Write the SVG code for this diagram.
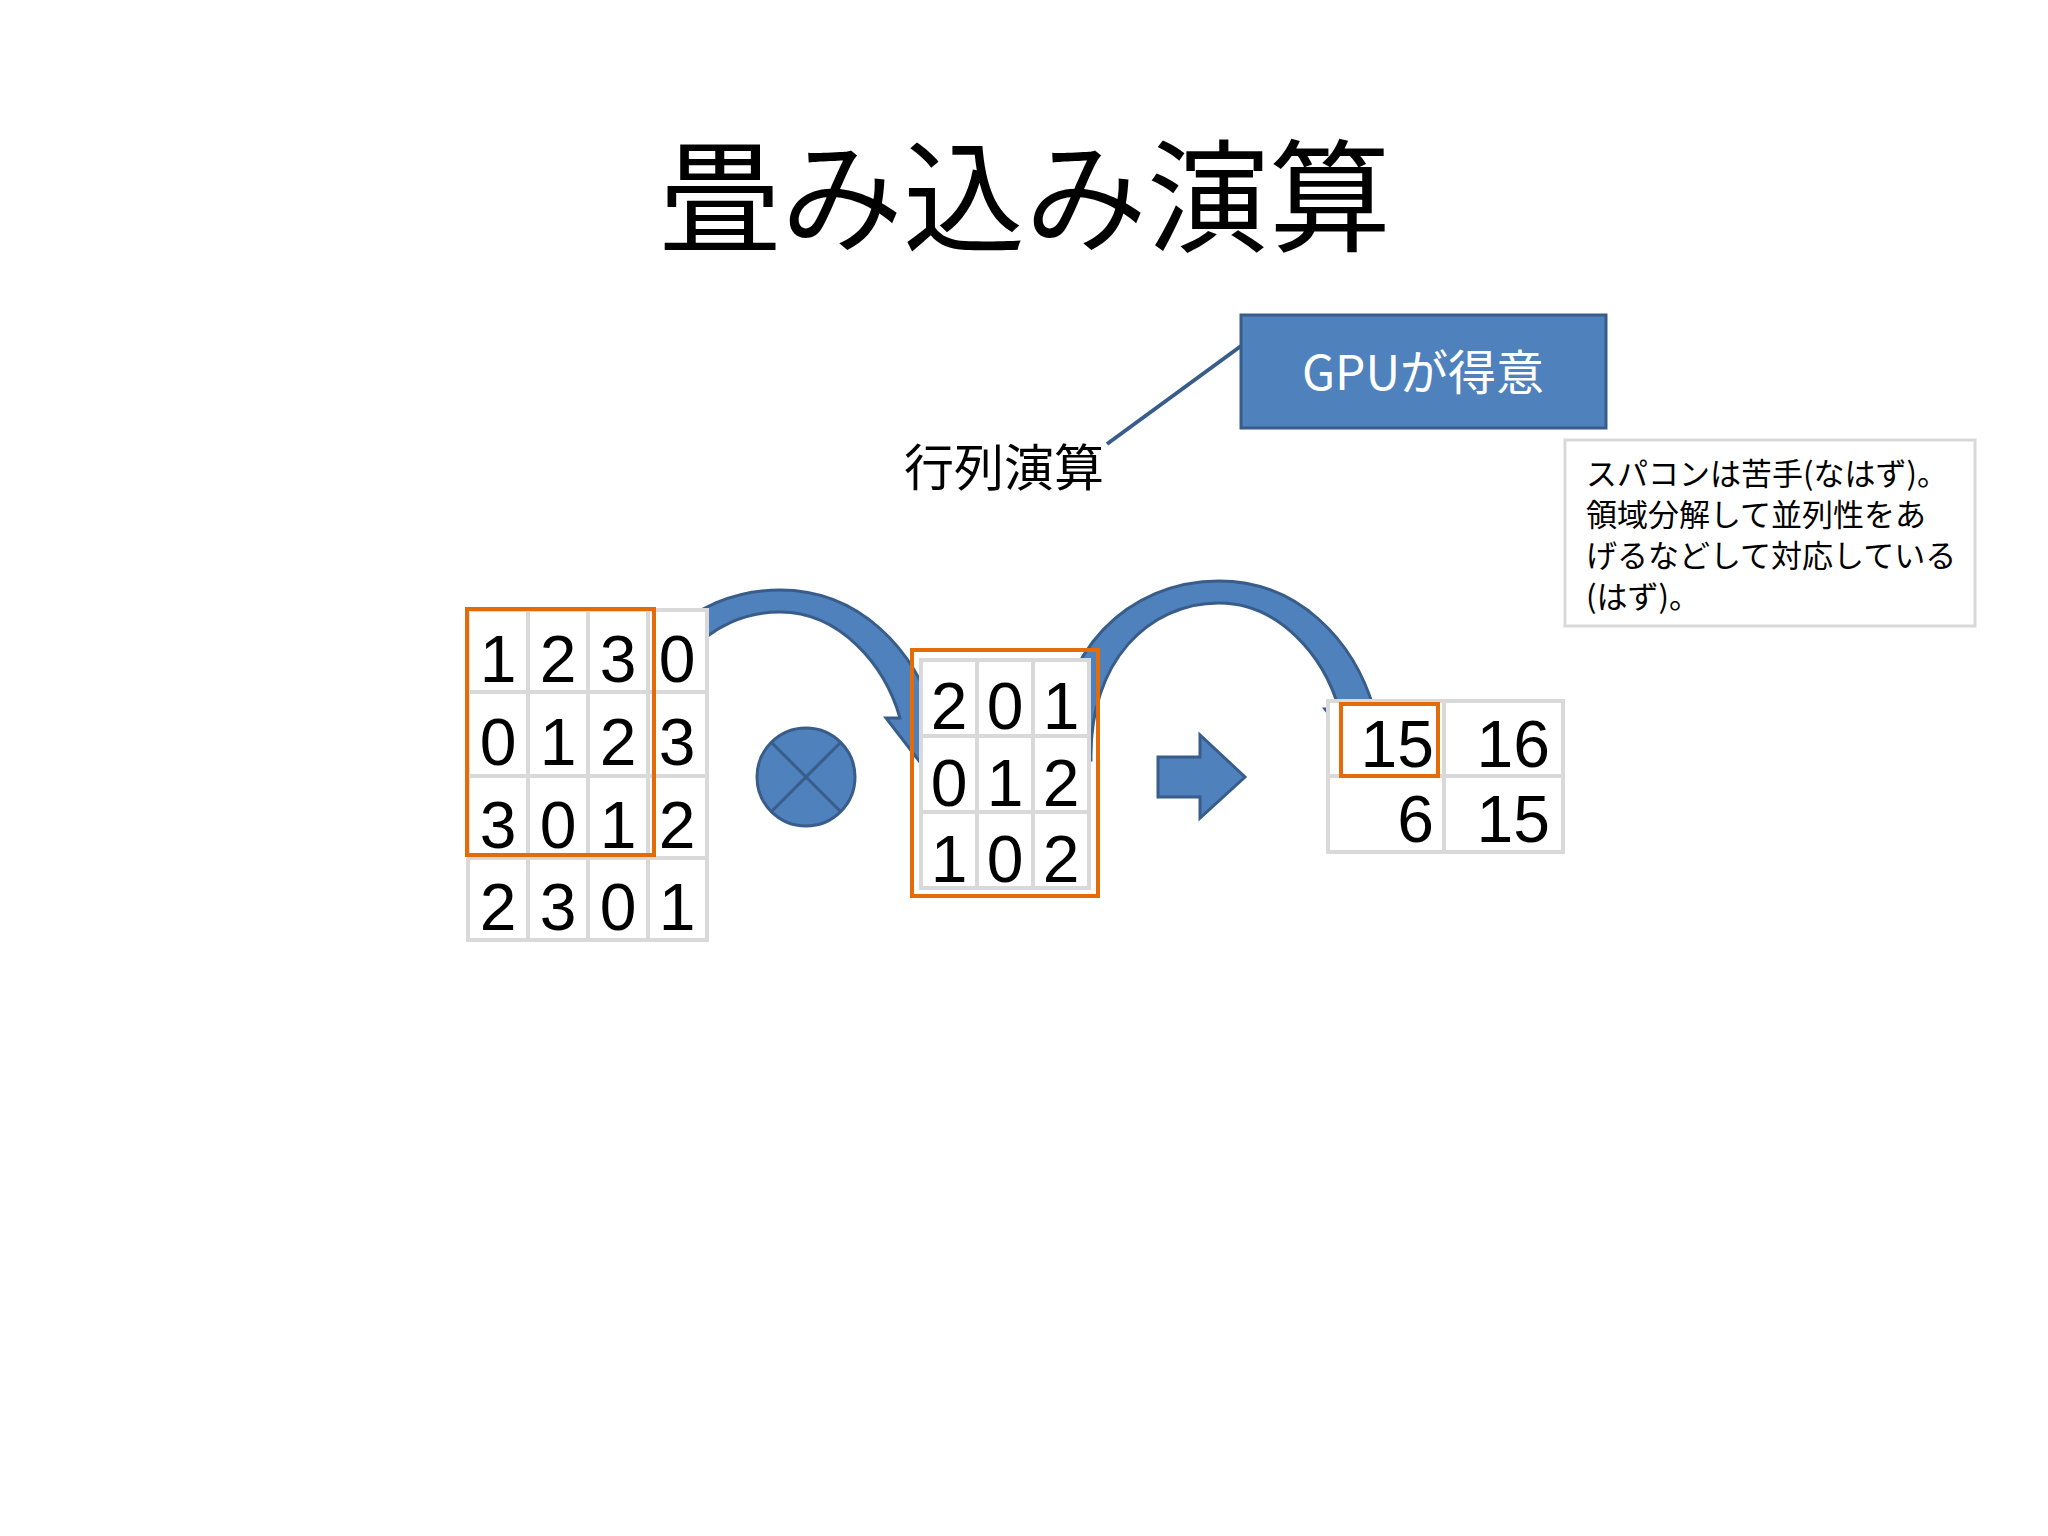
<svg xmlns="http://www.w3.org/2000/svg" width="2048" height="1536" viewBox="0 0 2048 1536">
<style>
.num{font-family:"Liberation Sans",Arial,sans-serif;font-size:66px;fill:#000;text-anchor:middle}
.jp{font-family:"Noto Sans CJK JP","Liberation Sans",sans-serif;fill:#000}
.cell{fill:#fff;stroke:#d9d9d9;stroke-width:4}
.sel{fill:none;stroke:#e36c09;stroke-width:4}
.blue{fill:#4f81bd;stroke:#385d8a;stroke-width:3}
</style>
<defs>
<path id="carrow" d="M619,769 C615,660 690,590 780,590 C860,590 915,650 935,718 L950,718 L923,766 L886,718 L900,718 C885,665 840,612 780,612 C710,612 650,670 652,769 Z"/>
</defs>
<rect width="2048" height="1536" fill="#fff"/>
<text x="1025" y="242" class="jp" font-size="122" text-anchor="middle">畳み込み演算</text>

<g id="connectors">
<line x1="1241" y1="346" x2="1107" y2="444" stroke="#385d8a" stroke-width="4"/>
<use href="#carrow" class="blue"/>
<use href="#carrow" class="blue" transform="translate(439,-9)"/>
<path class="blue" d="M1158,757 L1200,757 L1200,735 L1245,777 L1200,818 L1200,797 L1158,797 Z"/>
</g>

<g id="gpu">
<rect x="1241" y="315" width="365" height="113" class="blue" stroke-width="4"/>
<text x="1423" y="390" class="jp" font-size="48" fill="#fff" style="fill:#fff" text-anchor="middle">GPUが得意</text>
</g>
<g id="label-matrix">
<text x="904" y="486" class="jp" font-size="50">行列演算</text>
</g>
<g id="note">
<rect x="1565" y="440" width="410" height="186" fill="#fff" stroke="#d9d9d9" stroke-width="3"/>
<text class="jp" font-size="31"><tspan x="1586" y="485">スパコンは苦手(なはず)。</tspan><tspan x="1586" y="526">領域分解して並列性をあ</tspan><tspan x="1586" y="567">げるなどして対応している</tspan><tspan x="1586" y="608">(はず)。</tspan></text>
</g>

<g id="matrixA">
<rect class="cell" x="468" y="610" width="60" height="82"/><rect class="cell" x="528" y="610" width="60" height="82"/><rect class="cell" x="588" y="610" width="60" height="82"/><rect class="cell" x="648" y="610" width="59" height="82"/>
<rect class="cell" x="468" y="692" width="60" height="84"/><rect class="cell" x="528" y="692" width="60" height="84"/><rect class="cell" x="588" y="692" width="60" height="84"/><rect class="cell" x="648" y="692" width="59" height="84"/>
<rect class="cell" x="468" y="776" width="60" height="82"/><rect class="cell" x="528" y="776" width="60" height="82"/><rect class="cell" x="588" y="776" width="60" height="82"/><rect class="cell" x="648" y="776" width="59" height="82"/>
<rect class="cell" x="468" y="858" width="60" height="82"/><rect class="cell" x="528" y="858" width="60" height="82"/><rect class="cell" x="588" y="858" width="60" height="82"/><rect class="cell" x="648" y="858" width="59" height="82"/>
<text class="num" y="682"><tspan x="498">1</tspan><tspan x="558">2</tspan><tspan x="618">3</tspan><tspan x="677">0</tspan></text>
<text class="num" y="765"><tspan x="498">0</tspan><tspan x="558">1</tspan><tspan x="618">2</tspan><tspan x="677">3</tspan></text>
<text class="num" y="848"><tspan x="498">3</tspan><tspan x="558">0</tspan><tspan x="618">1</tspan><tspan x="677">2</tspan></text>
<text class="num" y="930"><tspan x="498">2</tspan><tspan x="558">3</tspan><tspan x="618">0</tspan><tspan x="677">1</tspan></text>
<rect class="sel" x="467" y="609" width="187" height="246"/>
</g>

<g id="otimes">
<circle cx="806" cy="777" r="49" class="blue"/>
<line x1="771" y1="742" x2="841" y2="812" stroke="#385d8a" stroke-width="3"/>
<line x1="841" y1="742" x2="771" y2="812" stroke="#385d8a" stroke-width="3"/>
</g>

<g id="matrixB">
<rect class="cell" x="921" y="660" width="56" height="76"/><rect class="cell" x="977" y="660" width="56" height="76"/><rect class="cell" x="1033" y="660" width="56" height="76"/>
<rect class="cell" x="921" y="736" width="56" height="76"/><rect class="cell" x="977" y="736" width="56" height="76"/><rect class="cell" x="1033" y="736" width="56" height="76"/>
<rect class="cell" x="921" y="812" width="56" height="76"/><rect class="cell" x="977" y="812" width="56" height="76"/><rect class="cell" x="1033" y="812" width="56" height="76"/>
<text class="num" y="729"><tspan x="949">2</tspan><tspan x="1005">0</tspan><tspan x="1061">1</tspan></text>
<text class="num" y="806"><tspan x="949">0</tspan><tspan x="1005">1</tspan><tspan x="1061">2</tspan></text>
<text class="num" y="882"><tspan x="949">1</tspan><tspan x="1005">0</tspan><tspan x="1061">2</tspan></text>
<rect class="sel" x="912" y="650" width="186" height="246"/>
</g>

<g id="result">
<rect class="cell" x="1328" y="701" width="116" height="75"/><rect class="cell" x="1444" y="701" width="119" height="75"/>
<rect class="cell" x="1328" y="776" width="116" height="76"/><rect class="cell" x="1444" y="776" width="119" height="76"/>
<text class="num" style="text-anchor:end" y="767"><tspan x="1434">15</tspan></text>
<text class="num" style="text-anchor:end" y="767"><tspan x="1550">16</tspan></text>
<text class="num" style="text-anchor:end" y="842"><tspan x="1434">6</tspan></text>
<text class="num" style="text-anchor:end" y="842"><tspan x="1550">15</tspan></text>
<rect class="sel" x="1341" y="704" width="97" height="72"/>
</g>
</svg>
